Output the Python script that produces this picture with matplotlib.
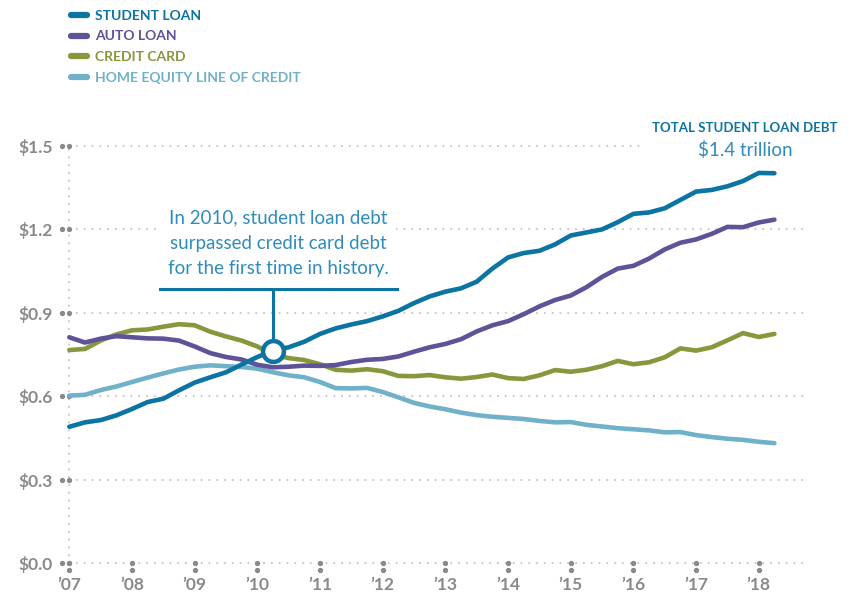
import matplotlib
matplotlib.use('Agg')

import matplotlib.pyplot as plt
import matplotlib.transforms as mtransforms
import numpy as np

# quarterly balances, trillions of dollars, 2007 Q1 - 2018 Q2
start_year = 2007
student_loan = [0.490, 0.506, 0.514, 0.531, 0.554, 0.579, 0.591, 0.621, 0.649, 0.668,
                0.686, 0.714, 0.741, 0.764, 0.776, 0.796, 0.824, 0.844, 0.858, 0.870,
                0.887, 0.907, 0.935, 0.959, 0.976, 0.988, 1.012, 1.059, 1.099, 1.115,
                1.123, 1.146, 1.178, 1.189, 1.200, 1.226, 1.256, 1.261, 1.276, 1.306,
                1.336, 1.342, 1.355, 1.374, 1.403, 1.402]
auto_loan = [0.812, 0.793, 0.807, 0.816, 0.812, 0.808, 0.807, 0.800, 0.779, 0.755,
             0.741, 0.732, 0.713, 0.704, 0.706, 0.710, 0.709, 0.712, 0.723, 0.731,
             0.734, 0.743, 0.760, 0.776, 0.788, 0.805, 0.833, 0.855, 0.870, 0.895,
             0.923, 0.946, 0.962, 0.992, 1.029, 1.059, 1.069, 1.095, 1.128, 1.152,
             1.164, 1.184, 1.209, 1.208, 1.225, 1.235]
credit_card = [0.766, 0.770, 0.800, 0.822, 0.837, 0.840, 0.850, 0.859, 0.855, 0.832,
               0.815, 0.800, 0.779, 0.750, 0.737, 0.730, 0.715, 0.695, 0.692, 0.697,
               0.690, 0.673, 0.672, 0.676, 0.668, 0.663, 0.669, 0.678, 0.665, 0.662,
               0.675, 0.694, 0.688, 0.695, 0.708, 0.727, 0.715, 0.722, 0.740, 0.772,
               0.764, 0.776, 0.801, 0.827, 0.813, 0.824]
home_equity = [0.602, 0.605, 0.622, 0.635, 0.651, 0.667, 0.682, 0.696, 0.706, 0.711,
               0.708, 0.705, 0.699, 0.686, 0.675, 0.668, 0.651, 0.629, 0.628, 0.630,
               0.615, 0.596, 0.576, 0.563, 0.553, 0.541, 0.532, 0.526, 0.522, 0.518,
               0.511, 0.506, 0.507, 0.497, 0.491, 0.485, 0.481, 0.477, 0.470, 0.471,
               0.460, 0.453, 0.447, 0.443, 0.436, 0.431]

series_names = ['STUDENT LOAN', 'AUTO LOAN', 'CREDIT CARD', 'HOME EQUITY LINE OF CREDIT']
series_colors = ['#0b74a3', '#5f5298', '#86983c', '#6fb1c9']

y_ticks = [0.0, 0.3, 0.6, 0.9, 1.2, 1.5]
y_labels = ['$0.0', '$0.3', '$0.6', '$0.9', '$1.2', '$1.5']
x_years = list(range(2007, 2019))
x_labels = ['\u2019%02d' % (y % 100) for y in x_years]

crossover_idx = 13  # 2010 Q2
note = 'In 2010, student loan debt\nsurpassed credit card debt\nfor the first time in history.'
total_title = 'TOTAL STUDENT LOAN DEBT'
total_value = '$1.4 trillion'

GRID = '#c9c9c9'
TICK = '#8a8a8a'
NOTE = '#2f8cbd'

plt.rcParams['font.family'] = ['Lato', 'DejaVu Sans']


def main():
    quarters = start_year + np.arange(len(student_loan)) / 4.0

    fig = plt.figure(figsize=(8.52, 5.95), dpi=100)
    ax = fig.add_axes([69.3 / 852, 32 / 595, 737.7 / 852, 417 / 595])
    ax.set_xlim(2007, 2018.77)
    ax.set_ylim(0, 1.5)
    for s in ax.spines.values():
        s.set_visible(False)

    # dotted grid
    dot = dict(color=GRID, lw=1.6, linestyle=(0, (0.01, 3.5)),
               dash_capstyle='round', zorder=0, clip_on=False)
    for v in y_ticks:
        xmax = 0.778 if v == 1.5 else 1.0
        ax.axhline(v, 0, xmax, **dot)
    ax.axvline(2007, 0, 1, **dot)

    # tick dots
    left = mtransforms.offset_copy(ax.transData, fig=fig, x=-7, y=0, units='dots')
    down = mtransforms.offset_copy(ax.transData, fig=fig, x=0, y=-7, units='dots')
    ax.plot([2007] * len(y_ticks), y_ticks, 'o', ms=2.8, color=TICK, clip_on=False, zorder=1)
    ax.plot([2007] * len(y_ticks), y_ticks, 'o', ms=2.8, color=TICK, clip_on=False,
            zorder=1, transform=left)
    ax.plot(x_years, [0] * len(x_years), 'o', ms=2.8, color=TICK, clip_on=False, zorder=1)
    ax.plot(x_years, [0] * len(x_years), 'o', ms=2.8, color=TICK, clip_on=False,
            zorder=1, transform=down)

    ax.set_yticks(y_ticks)
    ax.set_yticklabels(y_labels)
    ax.set_xticks(x_years)
    ax.set_xticklabels(x_labels)
    ax.tick_params(length=0, colors=TICK, labelsize=12.5)
    ax.tick_params(axis='y', pad=12)
    ax.tick_params(axis='x', pad=10)
    for lab in ax.get_xticklabels() + ax.get_yticklabels():
        lab.set_fontweight('bold')

    order = [3, 2, 1, 0]
    all_vals = [student_loan, auto_loan, credit_card, home_equity]
    lines = {}
    for i in order:
        ln, = ax.plot(quarters, all_vals[i], color=series_colors[i], lw=3.3,
                      solid_capstyle='round', solid_joinstyle='round',
                      label=series_names[i], clip_on=False, zorder=3)
        lines[i] = ln
    handles = [lines[i] for i in range(4)]

    leg = ax.legend(handles=handles, loc='upper left', bbox_to_anchor=(65 / 852, 1 - 4 / 595),
                    bbox_transform=fig.transFigure, frameon=False, handlelength=1.15,
                    handletextpad=0.6, labelspacing=0.64, borderaxespad=0,
                    labelcolor='linecolor', prop={'weight': 'bold', 'size': 10})
    for h in leg.legend_handles:
        h.set_linewidth(4.5)
        h.set_solid_capstyle('round')

    # crossover annotation
    cx, cy = quarters[crossover_idx], student_loan[crossover_idx]
    bar_y = 0.985
    ax.plot([cx, cx], [cy, bar_y], color=series_colors[0], lw=2.2, zorder=4)
    ax.plot([2008.44, 2012.23], [bar_y, bar_y], color=series_colors[0], lw=2.2, zorder=4)
    ax.plot([cx], [cy], 'o', ms=15, mfc='white', mec=series_colors[0], mew=3.2, zorder=5)
    ax.text((2008.44 + 2012.23) / 2, 1.151, note, ha='center', va='center', color=NOTE,
            fontsize=13.5, linespacing=1.58, zorder=4,
            bbox=dict(facecolor='white', edgecolor='none', pad=5))

    ax.text(2017.78, 1.566, total_title, ha='center', va='center', color=series_colors[0],
            fontsize=9.5, fontweight='bold', clip_on=False)
    ax.text(2017.78, 1.484, total_value, ha='center', va='center', color=NOTE,
            fontsize=13.5, clip_on=False)

    fig.savefig('out.png', dpi=100)
    plt.close(fig)


if __name__ == '__main__':
    main()
